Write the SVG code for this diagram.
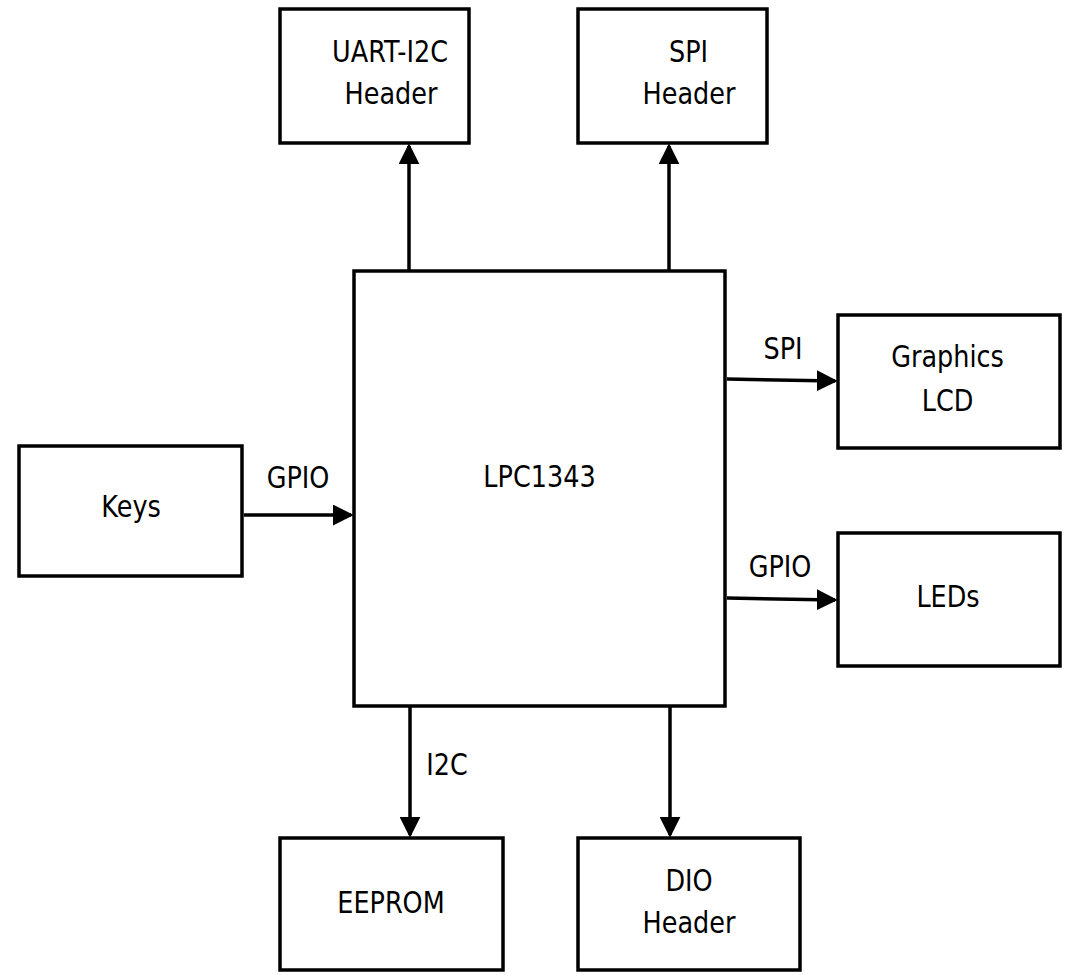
<svg xmlns="http://www.w3.org/2000/svg" width="1065" height="975" viewBox="0 0 1065 975">
<style>
.box{fill:#fff;stroke:#000;stroke-width:3.5}
.t{font-family:"DejaVu Sans",sans-serif;font-size:25.5px;fill:#000;text-anchor:middle}
.c{stroke:#000;stroke-width:3.5;fill:none;marker-end:url(#ah)}
</style>
<defs>
<marker id="ah" markerWidth="6" markerHeight="6" refX="5.2" refY="3" orient="auto" markerUnits="strokeWidth" viewBox="0 0 6 6">
<path d="M0,0 L6,3 L0,6 z" fill="#000"/>
</marker>
</defs>
<rect width="1065" height="975" fill="#fff"/>
<g id="uart"><rect class="box" x="280" y="9" width="189" height="134"/><text class="t" transform="translate(390,62) scale(1,1.16)">UART-I2C</text><text class="t" transform="translate(391,104) scale(1,1.16)">Header</text></g>
<g id="spih"><rect class="box" x="578" y="9" width="189" height="134"/><text class="t" transform="translate(688.5,62) scale(1,1.16)">SPI</text><text class="t" transform="translate(689,104) scale(1,1.16)">Header</text></g>
<g id="lpc"><rect class="box" x="354" y="271" width="371" height="435"/><text class="t" transform="translate(539.5,487) scale(1,1.16)">LPC1343</text></g>
<g id="lcd"><rect class="box" x="838" y="315" width="222" height="133"/><text class="t" transform="translate(947.5,367) scale(1,1.16)">Graphics</text><text class="t" transform="translate(947.5,411) scale(1,1.16)">LCD</text></g>
<g id="leds"><rect class="box" x="838" y="533" width="222" height="133"/><text class="t" transform="translate(948,607) scale(1,1.16)">LEDs</text></g>
<g id="keys"><rect class="box" x="19" y="446" width="223" height="130"/><text class="t" transform="translate(131,517) scale(1,1.16)">Keys</text></g>
<g id="eeprom"><rect class="box" x="280" y="838" width="223" height="132"/><text class="t" transform="translate(391,913) scale(1,1.16)">EEPROM</text></g>
<g id="dio"><rect class="box" x="578" y="838" width="222" height="132"/><text class="t" transform="translate(689,891) scale(1,1.16)">DIO</text><text class="t" transform="translate(689,933) scale(1,1.16)">Header</text></g>
<g id="connectors">
<line class="c" x1="409" y1="270" x2="409" y2="146"/>
<line class="c" x1="669" y1="270" x2="669" y2="146"/>
<line class="c" x1="727" y1="379" x2="835" y2="381"/>
<line class="c" x1="727" y1="598" x2="835" y2="600"/>
<line class="c" x1="244" y1="515" x2="351" y2="515"/>
<line class="c" x1="410" y1="707" x2="410" y2="835"/>
<line class="c" x1="670" y1="707" x2="670" y2="835"/>
<text class="t" transform="translate(298,488) scale(1,1.16)">GPIO</text>
<text class="t" transform="translate(783,359) scale(1,1.16)">SPI</text>
<text class="t" transform="translate(780,577) scale(1,1.16)">GPIO</text>
<text class="t" transform="translate(447,775) scale(1,1.16)">I2C</text>
</g>
</svg>
